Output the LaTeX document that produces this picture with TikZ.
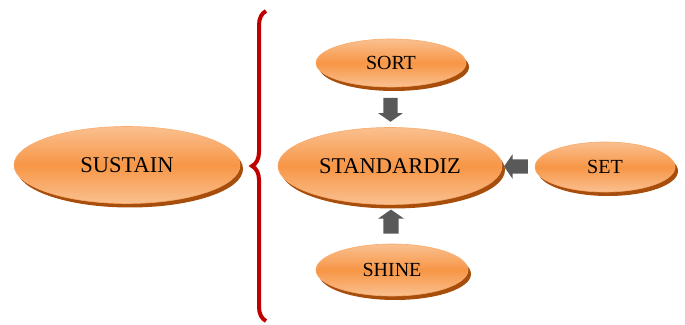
\documentclass[tikz,border=0pt]{standalone}
\usepackage{fontspec}
\setmainfont{Liberation Serif}
\usetikzlibrary{shapes.geometric,shapes.arrows,shadows,calc,decorations.pathreplacing}
\definecolor{orangemid}{HTML}{F79646}
\definecolor{orangelight}{HTML}{FAC090}
\definecolor{shadowbrown}{HTML}{A84E0C}
\definecolor{bracered}{HTML}{C00000}
\definecolor{arrowgray}{HTML}{595959}

\begin{document}
\begin{tikzpicture}[x=1pt,y=1pt]
        \tikzset{blob/.style={ellipse,draw=orangemid!80!white,line width=0.6pt,
            top color=orangelight,bottom color=orangelight,middle color=orangemid,
            drop shadow={shadow xshift=3pt,shadow yshift=-4pt,fill=shadowbrown,opacity=1},
            inner sep=0pt,font=\fontsize{22.5}{26}\selectfont},
          small/.style={font=\fontsize{20}{23}\selectfont},
          block/.style={single arrow,fill=arrowgray,draw=none,inner sep=7pt,
            single arrow head extend=5pt,single arrow tip angle=110,
            minimum height=24pt,minimum width=23pt}}
        \useasboundingbox (0,0) rectangle (685,324);
        \node[blob,minimum width=226pt,minimum height=77pt] (sustain) at (127,159) {SUSTAIN};
        \node[blob,minimum width=224pt,minimum height=77pt] (std) at (390,158) {STANDARDIZ};
        \node[blob,small,minimum width=150pt,minimum height=48pt] (sort) at (391,261) {SORT};
        \node[blob,small,minimum width=140pt,minimum height=50pt] (set) at (605,157) {SET};
        \node[blob,small,minimum width=152pt,minimum height=52pt] (shine) at (392,54) {SHINE};
        % brace
        \draw[bracered,line width=4pt,decorate,decoration={brace,amplitude=14pt}]
          (266,3) -- (266,313);
        % block arrows
        \node[block,rotate=-90] (a1) at ($(sort.south)!0.5!(std.north)$) {};
        \node[block,rotate=90,minimum width=26pt] (a2) at ($(shine.north)!0.5!(std.south)$) {};
        \node[block,rotate=180] (a3) at ($(set.west)!0.5!(std.east)$) {};
      \end{tikzpicture}
\end{document}
